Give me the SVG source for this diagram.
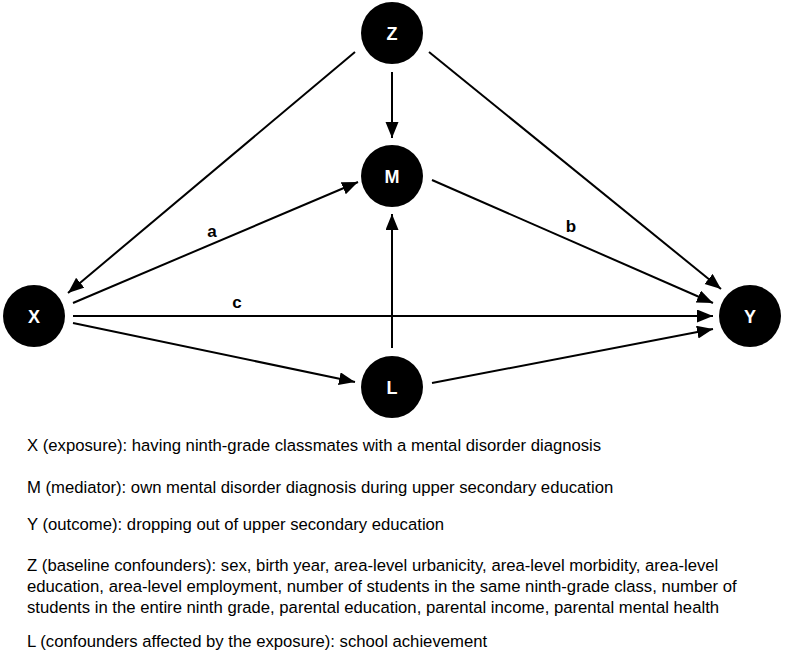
<svg xmlns="http://www.w3.org/2000/svg" width="785" height="653" viewBox="0 0 785 653">
<style>
.node{fill:#000}
.nl{font-family:"Liberation Sans",Arial,sans-serif;font-weight:bold;font-size:18px;fill:#fff;text-anchor:middle}
.el{font-family:"Liberation Sans",Arial,sans-serif;font-weight:bold;font-size:17px;fill:#000;text-anchor:middle}
.edge{stroke:#000;stroke-width:2;fill:none;marker-end:url(#ah)}
.leg{font-family:"Liberation Sans",Arial,sans-serif;font-size:16.7px;fill:#000}
</style>
<defs>
<marker id="ah" markerUnits="userSpaceOnUse" markerWidth="17" markerHeight="14" refX="16" refY="6.5" orient="auto">
<path d="M0,0 L16,6.5 L0,13 z" fill="#000"/>
</marker>
</defs>
<rect width="785" height="653" fill="#fff"/>
<g id="connectors">
<line class="edge" x1="355" y1="52" x2="68" y2="293"/>
<line class="edge" x1="392" y1="72" x2="392" y2="138"/>
<line class="edge" x1="429" y1="52" x2="721" y2="289"/>
<line class="edge" x1="73" y1="303" x2="358" y2="182"/>
<line class="edge" x1="432" y1="180" x2="713" y2="303"/>
<line class="edge" x1="73" y1="316" x2="713" y2="316"/>
<line class="edge" x1="73" y1="323" x2="355" y2="382"/>
<line class="edge" x1="392" y1="348" x2="392" y2="214"/>
<line class="edge" x1="432" y1="383" x2="713" y2="329"/>
<text class="el" x="212" y="237">a</text>
<text class="el" x="571" y="232">b</text>
<text class="el" x="237" y="308">c</text>
</g>
<g id="node-Z"><circle class="node" cx="392" cy="33" r="31"/><text class="nl" x="392" y="39.5">Z</text></g>
<g id="node-M"><circle class="node" cx="392" cy="176" r="31"/><text class="nl" x="392" y="182.5">M</text></g>
<g id="node-X"><circle class="node" cx="34" cy="316" r="31"/><text class="nl" x="34" y="322.5">X</text></g>
<g id="node-Y"><circle class="node" cx="750" cy="316" r="31"/><text class="nl" x="750" y="322.5">Y</text></g>
<g id="node-L"><circle class="node" cx="392" cy="387" r="31"/><text class="nl" x="392" y="393.5">L</text></g>
<g id="legend">
<text class="leg" x="27" y="451">X (exposure): having ninth-grade classmates with a mental disorder diagnosis</text>
<text class="leg" x="27" y="493">M (mediator): own mental disorder diagnosis during upper secondary education</text>
<text class="leg" x="27" y="530">Y (outcome): dropping out of upper secondary education</text>
<text class="leg" x="27" y="571">Z (baseline confounders): sex, birth year, area-level urbanicity, area-level morbidity, area-level</text>
<text class="leg" x="27" y="592">education, area-level employment, number of students in the same ninth-grade class, number of</text>
<text class="leg" x="27" y="613">students in the entire ninth grade, parental education, parental income, parental mental health</text>
<text class="leg" x="27" y="647">L (confounders affected by the exposure): school achievement</text>
</g>
</svg>
